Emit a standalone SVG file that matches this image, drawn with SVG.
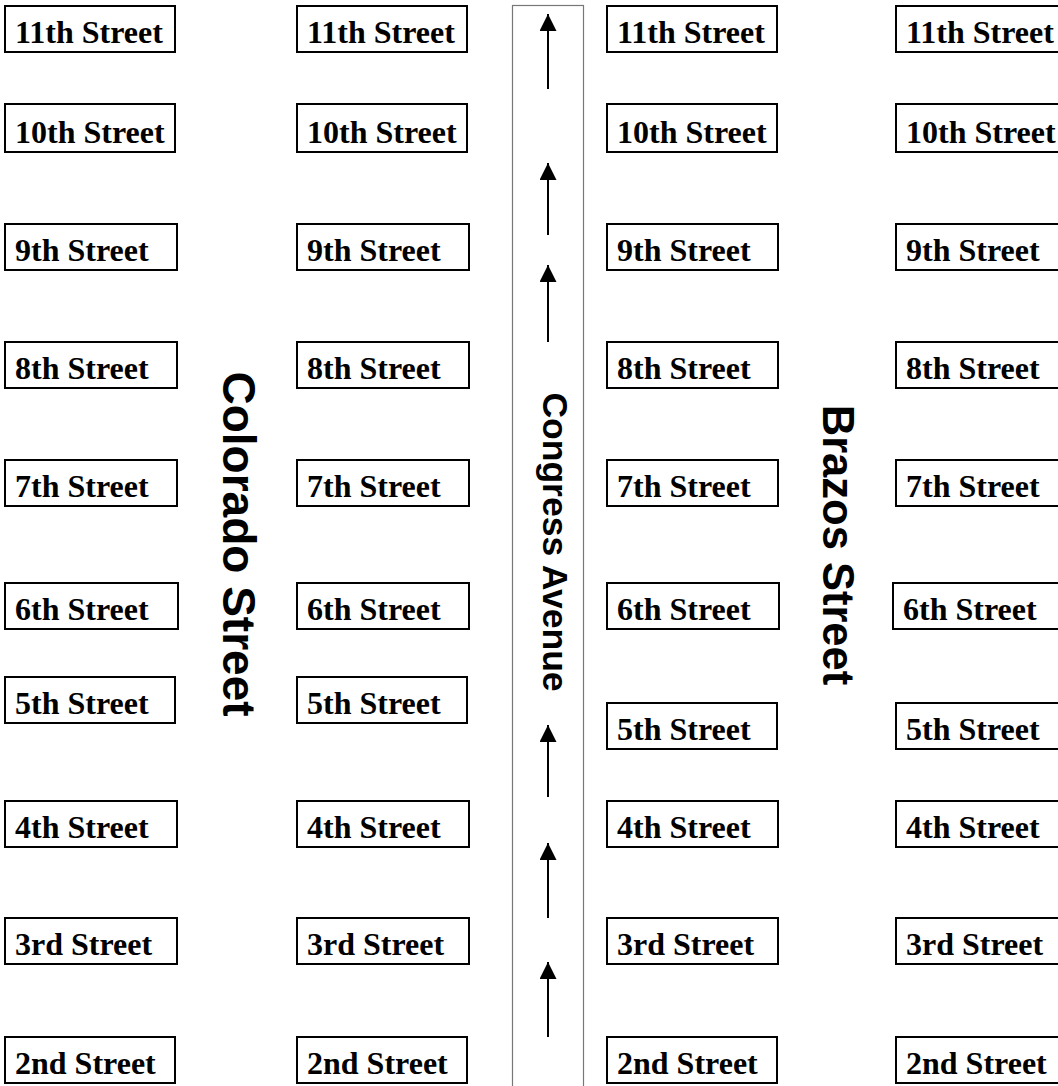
<svg xmlns="http://www.w3.org/2000/svg" width="1058" height="1086" viewBox="0 0 1058 1086">
<style>
.box rect{fill:#fff;stroke:#000;stroke-width:2}
.box text{font-family:"Liberation Serif","Times New Roman",serif;font-weight:bold;font-size:32px;fill:#000}
.road{fill:#fff;stroke:#777;stroke-width:1.2}
.lbl{font-family:"Liberation Sans",Arial,sans-serif;font-weight:bold;fill:#000;text-anchor:middle}
.arr{stroke:#000;stroke-width:2;fill:none;marker-end:url(#ah)}
</style>
<defs>
<marker id="ah" markerUnits="userSpaceOnUse" markerWidth="18" markerHeight="18" refX="17" refY="8.5" orient="auto">
<path d="M0,0 L17,8.5 L0,17 Z" fill="#000"/>
</marker>
</defs>
<rect width="1058" height="1086" fill="#fff"/>
<g id="congress-avenue">
<rect class="road" x="512.5" y="5.5" width="71" height="1090"/>
<text class="lbl" font-size="35.5" transform="translate(543,542) rotate(90)">Congress Avenue</text>
</g>
<g id="connectors">
<line class="arr" x1="548" y1="89" x2="548" y2="14"/>
<line class="arr" x1="548" y1="235" x2="548" y2="163"/>
<line class="arr" x1="548" y1="342" x2="548" y2="265"/>
<line class="arr" x1="548" y1="797" x2="548" y2="725"/>
<line class="arr" x1="548" y1="918" x2="548" y2="843"/>
<line class="arr" x1="548" y1="1037" x2="548" y2="962"/>
</g>
<g id="colorado-street"><text class="lbl" font-size="46" transform="translate(223,544) rotate(90)">Colorado Street</text></g>
<g id="brazos-street"><text class="lbl" font-size="43.5" transform="translate(823,545) rotate(90)">Brazos Street</text></g>

<g id="c1-11" class="box"><rect x="5" y="6" width="170" height="46"/><text x="15" y="43">11th Street</text></g>
<g id="c1-10" class="box"><rect x="5" y="104" width="170" height="48"/><text x="15" y="143">10th Street</text></g>
<g id="c1-9" class="box"><rect x="5" y="224" width="172" height="46"/><text x="15" y="261">9th Street</text></g>
<g id="c1-8" class="box"><rect x="5" y="342" width="172" height="46"/><text x="15" y="379">8th Street</text></g>
<g id="c1-7" class="box"><rect x="5" y="460" width="172" height="46"/><text x="15" y="497">7th Street</text></g>
<g id="c1-6" class="box"><rect x="5" y="583" width="173" height="46"/><text x="15" y="620">6th Street</text></g>
<g id="c1-5" class="box"><rect x="5" y="677" width="170" height="46"/><text x="15" y="714">5th Street</text></g>
<g id="c1-4" class="box"><rect x="5" y="801" width="172" height="46"/><text x="15" y="838">4th Street</text></g>
<g id="c1-3" class="box"><rect x="5" y="918" width="172" height="46"/><text x="15" y="955">3rd Street</text></g>
<g id="c1-2" class="box"><rect x="5" y="1037" width="170" height="46"/><text x="15" y="1074">2nd Street</text></g>

<g id="c2-11" class="box"><rect x="297" y="6" width="170" height="46"/><text x="307" y="43">11th Street</text></g>
<g id="c2-10" class="box"><rect x="297" y="104" width="170" height="48"/><text x="307" y="143">10th Street</text></g>
<g id="c2-9" class="box"><rect x="297" y="224" width="172" height="46"/><text x="307" y="261">9th Street</text></g>
<g id="c2-8" class="box"><rect x="297" y="342" width="172" height="46"/><text x="307" y="379">8th Street</text></g>
<g id="c2-7" class="box"><rect x="297" y="460" width="172" height="46"/><text x="307" y="497">7th Street</text></g>
<g id="c2-6" class="box"><rect x="297" y="583" width="172" height="46"/><text x="307" y="620">6th Street</text></g>
<g id="c2-5" class="box"><rect x="297" y="677" width="170" height="46"/><text x="307" y="714">5th Street</text></g>
<g id="c2-4" class="box"><rect x="297" y="801" width="172" height="46"/><text x="307" y="838">4th Street</text></g>
<g id="c2-3" class="box"><rect x="297" y="918" width="172" height="46"/><text x="307" y="955">3rd Street</text></g>
<g id="c2-2" class="box"><rect x="297" y="1037" width="170" height="46"/><text x="307" y="1074">2nd Street</text></g>

<g id="c3-11" class="box"><rect x="607" y="6" width="170" height="46"/><text x="617" y="43">11th Street</text></g>
<g id="c3-10" class="box"><rect x="607" y="104" width="170" height="48"/><text x="617" y="143">10th Street</text></g>
<g id="c3-9" class="box"><rect x="607" y="224" width="171" height="46"/><text x="617" y="261">9th Street</text></g>
<g id="c3-8" class="box"><rect x="607" y="342" width="171" height="46"/><text x="617" y="379">8th Street</text></g>
<g id="c3-7" class="box"><rect x="607" y="460" width="171" height="46"/><text x="617" y="497">7th Street</text></g>
<g id="c3-6" class="box"><rect x="607" y="583" width="172" height="46"/><text x="617" y="620">6th Street</text></g>
<g id="c3-5" class="box"><rect x="607" y="703" width="170" height="46"/><text x="617" y="740">5th Street</text></g>
<g id="c3-4" class="box"><rect x="607" y="801" width="171" height="46"/><text x="617" y="838">4th Street</text></g>
<g id="c3-3" class="box"><rect x="607" y="918" width="171" height="46"/><text x="617" y="955">3rd Street</text></g>
<g id="c3-2" class="box"><rect x="607" y="1037" width="170" height="46"/><text x="617" y="1074">2nd Street</text></g>

<g id="c4-11" class="box"><rect x="896" y="6" width="180" height="46"/><text x="906" y="43">11th Street</text></g>
<g id="c4-10" class="box"><rect x="896" y="104" width="180" height="48"/><text x="906" y="143">10th Street</text></g>
<g id="c4-9" class="box"><rect x="896" y="224" width="180" height="46"/><text x="906" y="261">9th Street</text></g>
<g id="c4-8" class="box"><rect x="896" y="342" width="180" height="46"/><text x="906" y="379">8th Street</text></g>
<g id="c4-7" class="box"><rect x="896" y="460" width="180" height="46"/><text x="906" y="497">7th Street</text></g>
<g id="c4-6" class="box"><rect x="893" y="583" width="180" height="46"/><text x="903" y="620">6th Street</text></g>
<g id="c4-5" class="box"><rect x="896" y="703" width="180" height="46"/><text x="906" y="740">5th Street</text></g>
<g id="c4-4" class="box"><rect x="896" y="801" width="180" height="46"/><text x="906" y="838">4th Street</text></g>
<g id="c4-3" class="box"><rect x="896" y="918" width="180" height="46"/><text x="906" y="955">3rd Street</text></g>
<g id="c4-2" class="box"><rect x="896" y="1037" width="180" height="46"/><text x="906" y="1074">2nd Street</text></g>
</svg>
